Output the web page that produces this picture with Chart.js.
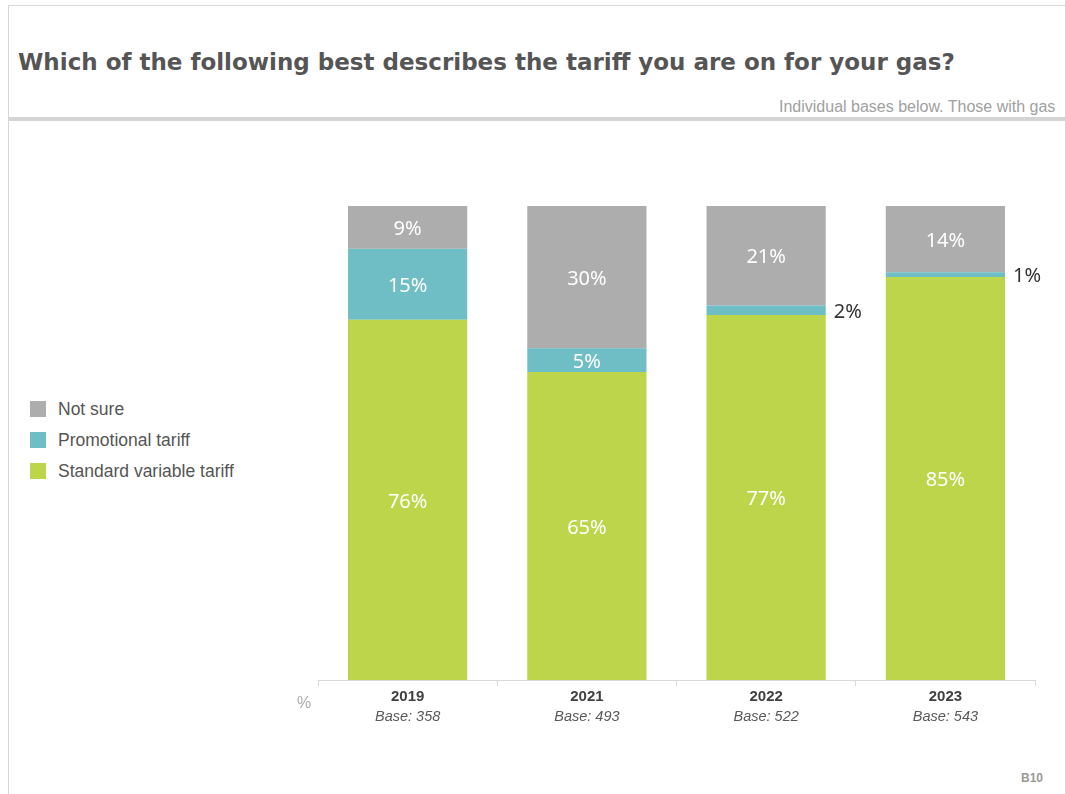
<!DOCTYPE html>
<html>
<head>
<meta charset="utf-8">
<script src="https://cdn.jsdelivr.net/npm/chart.js@4/dist/chart.umd.min.js"></script>
<style>
    html, body { margin: 0; padding: 0; background: #fff; }
    body { width: 1065px; height: 794px; position: relative; overflow: hidden; font-family: "Liberation Sans", Arial, sans-serif; }
    #frame { position: absolute; left: 8px; top: 5px; width: 1080px; height: 800px; border-left: 1px solid #d6d6d6; border-top: 1px solid #d6d6d6; }
    #rule { position: absolute; left: 8px; top: 117px; width: 1080px; height: 4px; background: #d4d4d4; }
    #title { position: absolute; left: 18px; top: 49px; font-family: "DejaVu Sans", sans-serif; font-weight: bold; font-size: 23px; color: #555; white-space: nowrap; }
    #subtitle { position: absolute; left: 779px; top: 98px; font-size: 16px; color: #a0a0a0; white-space: nowrap; }
    #legend { position: absolute; left: 30px; top: 398px; }
    .item { height: 31px; font-size: 17.5px; color: #555; line-height: 22px; white-space: nowrap; }
    .swatch { display: inline-block; width: 16px; height: 16px; vertical-align: -2px; margin-right: 12px; }
    #code { position: absolute; left: 1021px; top: 771px; font-size: 12px; font-weight: bold; color: #999; }
    #chart { position: absolute; left: 0; top: 0; }
</style>
</head>
<body>
<div id="frame"></div>
<div id="rule"></div>
<div id="title">Which of the following best describes the tariff you are on for your gas?</div>
<div id="subtitle">Individual bases below. Those with gas</div>
<div id="legend"></div>
<div id="code">B10</div>
<canvas id="chart" width="1065" height="794"></canvas>
<script>
    var years = ['2019', '2021', '2022', '2023'];
    var bases = ['Base: 358', 'Base: 493', 'Base: 522', 'Base: 543'];

    var standardVariable = [76, 65, 77, 85];
    var promotional = [15, 5, 2, 1];
    var notSure = [9, 30, 21, 14];

    var seriesNames = ['Standard variable tariff', 'Promotional tariff', 'Not sure'];
    var seriesColors = ['#bcd54a', '#70bec5', '#adadad'];

    // legend, top item is the top of the stack
    var legend = document.getElementById('legend');
    for (var i = seriesNames.length - 1; i >= 0; i--) {
        var row = document.createElement('div');
        row.className = 'item';
        row.innerHTML = '<span class="swatch" style="background:' + seriesColors[i] + '"></span>' + seriesNames[i];
        legend.appendChild(row);
    }

    var valueLabels = {
        id: 'valueLabels',
        afterDatasetsDraw: function(chart) {
            var ctx = chart.ctx;
            ctx.save();
            ctx.font = '20px "Noto Sans", "Open Sans", sans-serif';
            ctx.textBaseline = 'middle';
            chart.data.datasets.forEach(function(ds, di) {
                var meta = chart.getDatasetMeta(di);
                meta.data.forEach(function(bar, i) {
                    var v = ds.data[i];
                    var h = bar.base - bar.y;
                    var text = v + '%';
                    if (h > 22) {
                        ctx.fillStyle = '#fff';
                        ctx.textAlign = 'center';
                        ctx.fillText(text, bar.x, (bar.y + bar.base) / 2 + 2);
                    } else {
                        ctx.fillStyle = '#333';
                        ctx.textAlign = 'left';
                        ctx.fillText(text, bar.x + bar.width / 2 + 8, (bar.y + bar.base) / 2 + 2);
                    }
                });
            });
            ctx.restore();
        }
    };

    var axisLabels = {
        id: 'axisLabels',
        afterDraw: function(chart) {
            var ctx = chart.ctx;
            var x = chart.scales.x;
            var bottom = chart.chartArea.bottom;
            ctx.save();
            ctx.textAlign = 'center';
            ctx.textBaseline = 'middle';
            years.forEach(function(y, i) {
                var px = x.getPixelForValue(i);
                ctx.fillStyle = '#404040';
                ctx.font = 'bold 15px "Liberation Sans", Arial, sans-serif';
                ctx.fillText(y, px, bottom + 17);
                ctx.fillStyle = '#595959';
                ctx.font = 'italic 14.5px "Liberation Sans", Arial, sans-serif';
                ctx.fillText(bases[i], px, bottom + 37);
            });
            ctx.fillStyle = '#aaa';
            ctx.font = '16px "Liberation Sans", Arial, sans-serif';
            ctx.fillText('%', chart.chartArea.left - 14, bottom + 24);
            ctx.restore();
        }
    };

    new Chart(document.getElementById('chart'), {
        type: 'bar',
        data: {
            labels: years,
            datasets: [
                { label: seriesNames[0], data: standardVariable, backgroundColor: seriesColors[0] },
                { label: seriesNames[1], data: promotional, backgroundColor: seriesColors[1] },
                { label: seriesNames[2], data: notSure, backgroundColor: seriesColors[2] }
            ]
        },
        options: {
            responsive: false,
            animation: false,
            layout: { padding: { left: 318, top: 206, right: 30, bottom: 108 } },
            datasets: { bar: { categoryPercentage: 1, barPercentage: 0.665 } },
            plugins: { legend: { display: false }, tooltip: { enabled: false } },
            scales: {
                x: {
                    stacked: true,
                    ticks: { display: false },
                    grid: { drawOnChartArea: false, drawTicks: true, tickLength: 6, color: '#d9d9d9' },
                    border: { color: '#d9d9d9' }
                },
                y: {
                    stacked: true,
                    display: false,
                    min: 0,
                    max: 100
                }
            }
        },
        plugins: [valueLabels, axisLabels]
    });
</script>
</body>
</html>
